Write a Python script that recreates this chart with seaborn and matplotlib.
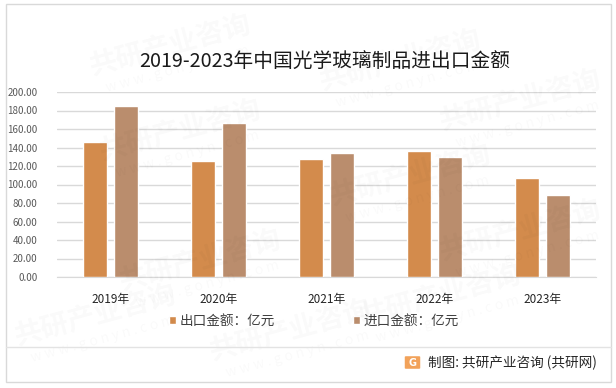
import numpy as np
import pandas as pd
import seaborn as sns
import matplotlib.pyplot as plt
from matplotlib.patches import Rectangle, FancyBboxPatch
from matplotlib.lines import Line2D

# data
years = ['2019年', '2020年', '2021年', '2022年', '2023年']
export_amt = [146.0, 125.5, 127.5, 136.2, 107.0]
import_amt = [185.0, 166.5, 134.0, 129.7, 88.6]
series = ['出口金额：亿元', '进口金额：亿元']
colors = ['#D38B4C', '#BA8D6D']

df = pd.DataFrame({'year': years * 2,
                   'value': export_amt + import_amt,
                   'kind': [series[0]] * 5 + [series[1]] * 5})

sns.set_style('white')
plt.rcParams['font.family'] = ['Noto Sans CJK SC', 'DejaVu Sans']

W, H = 616, 388
fig = plt.figure(figsize=(W / 100, H / 100), dpi=100)
ax = fig.add_axes([57 / W, 1 - 277 / H, (596 - 57) / W, (277 - 92) / H])

# faint watermarks
def px(x, y):
    return x / W, 1 - y / H

for (wx, wy) in [(170, 45), (400, 60), (520, 100), (180, 130), (410, 175),
                 (200, 260), (440, 295), (95, 315), (290, 330), (520, 230)]:
    fx, fy = px(wx, wy)
    fig.text(fx, fy, '共研产业咨询', fontsize=20, fontweight='bold', color='#000000',
             alpha=0.022, rotation=15, ha='center', va='center', zorder=0)
    fx2, fy2 = px(wx + 8, wy + 24)
    fig.text(fx2, fy2, 'w w w . g o n y n . c o m', fontsize=10, color='#000000',
             alpha=0.022, rotation=15, ha='center', va='center', zorder=0)

sns.barplot(data=df, x='year', y='value', hue='kind', hue_order=series,
            palette=colors, width=0.575, gap=0.226, saturation=1,
            ax=ax, zorder=3)

ax.set_ylim(0, 200)
ax.set_yticks(np.arange(0, 201, 20))
ax.set_yticklabels([f'{v:.2f}' for v in np.arange(0, 201, 20)])
ax.yaxis.grid(True, color='#D9D9D9', linewidth=1)
ax.set_axisbelow(True)
for s in ['left', 'right', 'top']:
    ax.spines[s].set_visible(False)
ax.spines['bottom'].set_color('#D9D9D9')
ax.tick_params(axis='y', length=0, pad=14, labelsize=7, labelcolor='#595959')
ax.tick_params(axis='x', length=0, pad=11.5, labelsize=8.5, labelcolor='#262626')
ax.set_xlabel('')
ax.set_ylabel('')
ax.set_facecolor('none')

sns.move_legend(ax, 'center left', bbox_to_anchor=(px(169, 321)),
                bbox_transform=fig.transFigure, ncol=2, frameon=False,
                title=None, fontsize=9.8, handlelength=0.5, handleheight=0.5,
                handletextpad=0.3, columnspacing=5.7, borderpad=0,
                borderaxespad=0)
for t in ax.get_legend().get_texts():
    t.set_color('#404040')

fig.text(*px(325, 61), '2019-2023年中国光学玻璃制品进出口金额', fontsize=14.2,
         ha='center', va='center', color='#1a1a1a')

# frame and footer
fig.add_artist(Rectangle(px(6, 382), (611 - 6) / W, (382 - 4) / H,
                         transform=fig.transFigure, fill=False,
                         edgecolor='#D9D9D9', linewidth=1))
fig.add_artist(Line2D([6 / W, 611 / W], [1 - 347 / H] * 2,
                      transform=fig.transFigure, color='#E3E3E3', linewidth=1))
fig.add_artist(FancyBboxPatch(px(406, 368), 13 / W, 11 / H,
                              boxstyle='round,pad=0.002', transform=fig.transFigure,
                              facecolor='#F2A25A', edgecolor='none'))
fig.text(*px(412.5, 362.5), 'G', fontsize=7, fontweight='bold', color='white',
         ha='center', va='center', family='DejaVu Sans')
fig.text(*px(428, 363), '制图: 共研产业咨询 (共研网)', fontsize=9.8,
         ha='left', va='center', color='#262626')

fig.savefig('out.png', dpi=100)
